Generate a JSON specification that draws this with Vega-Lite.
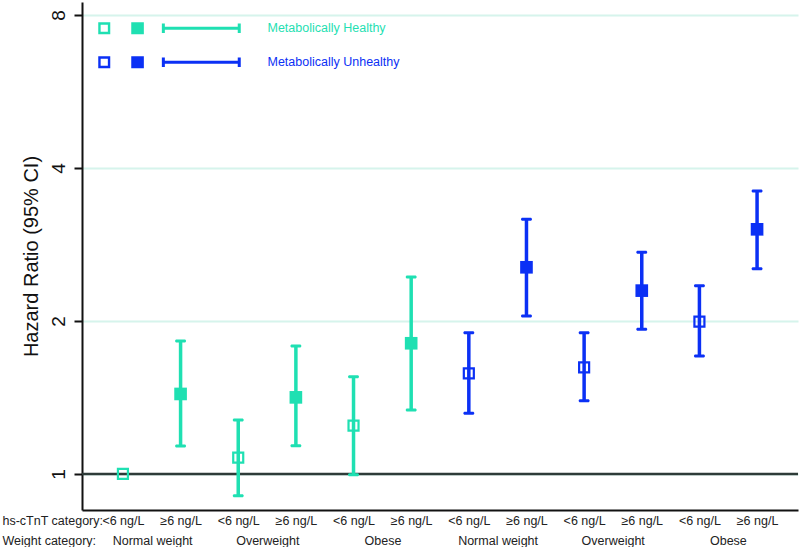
{
  "$schema": "https://vega.github.io/schema/vega-lite/v6.json",
  "width": 716,
  "height": 508,
  "autosize": {"type": "none"},
  "padding": {"left": 82, "top": 2, "right": 2, "bottom": 37},
  "background": "white",
  "config": {
    "view": {"stroke": null},
    "font": "Liberation Sans",
    "axisY": {"labelAngle": -90, "labelFontSize": 19, "labelAlign": "center", "labelBaseline": "bottom"},
    "legend": {
      "orient": "none",
      "legendX": 16,
      "legendY": 20,
      "title": null,
      "symbolType": "M-1,-1 L1,-1 L1,1 L-1,1 Z M-0.6,-0.6 L-0.6,0.6 L0.6,0.6 L0.6,-0.6 Z M4.5,-1 L6.6,-1 L6.6,1 L4.5,1 Z M9.6,-0.27 L22.75,-0.27 L22.75,0.27 L9.6,0.27 Z M9.6,-0.78 L10.1,-0.78 L10.1,0.78 L9.6,0.78 Z M22.25,-0.78 L22.75,-0.78 L22.75,0.78 L22.25,0.78 Z",
      "symbolSize": 144,
      "symbolStrokeWidth": 0,
      "labelOffset": 157,
      "labelFont": "Liberation Sans",
      "labelFontSize": 12.5,
      "labelLimit": 300,
      "rowPadding": 21,
      "padding": 0
    }
  },
  "data": {
    "values": [
      {"group": "Metabolically Healthy", "weight": "Normal weight", "tnt": "<6 ng/L", "hr": 1.0, "lo": null, "hi": null},
      {"group": "Metabolically Healthy", "weight": "Normal weight", "tnt": "≥6 ng/L", "hr": 1.437, "lo": 1.135, "hi": 1.826},
      {"group": "Metabolically Healthy", "weight": "Overweight", "tnt": "<6 ng/L", "hr": 1.077, "lo": 0.906, "hi": 1.277},
      {"group": "Metabolically Healthy", "weight": "Overweight", "tnt": "≥6 ng/L", "hr": 1.415, "lo": 1.136, "hi": 1.786},
      {"group": "Metabolically Healthy", "weight": "Obese", "tnt": "<6 ng/L", "hr": 1.245, "lo": 0.997, "hi": 1.554},
      {"group": "Metabolically Healthy", "weight": "Obese", "tnt": "≥6 ng/L", "hr": 1.808, "lo": 1.336, "hi": 2.44},
      {"group": "Metabolically Unhealthy", "weight": "Normal weight", "tnt": "<6 ng/L", "hr": 1.578, "lo": 1.317, "hi": 1.897},
      {"group": "Metabolically Unhealthy", "weight": "Normal weight", "tnt": "≥6 ng/L", "hr": 2.551, "lo": 2.046, "hi": 3.171},
      {"group": "Metabolically Unhealthy", "weight": "Overweight", "tnt": "<6 ng/L", "hr": 1.621, "lo": 1.394, "hi": 1.897},
      {"group": "Metabolically Unhealthy", "weight": "Overweight", "tnt": "≥6 ng/L", "hr": 2.295, "lo": 1.926, "hi": 2.73},
      {"group": "Metabolically Unhealthy", "weight": "Obese", "tnt": "<6 ng/L", "hr": 1.994, "lo": 1.707, "hi": 2.347},
      {"group": "Metabolically Unhealthy", "weight": "Obese", "tnt": "≥6 ng/L", "hr": 3.03, "lo": 2.534, "hi": 3.604}
    ]
  },
  "transform": [
    {"calculate": "datum.group + '|' + datum.weight + '|' + datum.tnt", "as": "cat"},
    {"calculate": "datum.group + '|' + datum.weight", "as": "wcat"}
  ],
  "layer": [
    {
      "data": {"values": [{"ref": 1}]},
      "mark": {"type": "rule", "color": "#2e3b38", "strokeWidth": 2.5},
      "encoding": {
        "y": {
          "field": "ref", "type": "quantitative",
          "scale": {"type": "log", "base": 2, "domain": [0.8494, 8.486], "nice": false},
          "axis": {
            "values": [1, 2, 4, 8], "format": "d",
            "labelAngle": -90,
            "labelFontSize": 19, "labelColor": "#111", "labelPadding": 6,
            "tickSize": 8, "tickWidth": 2, "tickColor": "#111",
            "domainColor": "#111", "domainWidth": 2,
            "grid": true, "gridColor": "#d6f4ec", "gridWidth": 2,
            "title": "Hazard Ratio (95% CI)", "titleFontSize": 20, "titleFontWeight": "normal",
            "titleColor": "#111", "titlePadding": 8
          }
        }
      }
    },
    {
      "encoding": {
        "x": {
          "field": "cat", "type": "ordinal",
          "scale": {
            "type": "point", "padding": 0.71,
            "domain": [
              "Metabolically Healthy|Normal weight|<6 ng/L", "Metabolically Healthy|Normal weight|≥6 ng/L",
              "Metabolically Healthy|Overweight|<6 ng/L", "Metabolically Healthy|Overweight|≥6 ng/L",
              "Metabolically Healthy|Obese|<6 ng/L", "Metabolically Healthy|Obese|≥6 ng/L",
              "Metabolically Unhealthy|Normal weight|<6 ng/L", "Metabolically Unhealthy|Normal weight|≥6 ng/L",
              "Metabolically Unhealthy|Overweight|<6 ng/L", "Metabolically Unhealthy|Overweight|≥6 ng/L",
              "Metabolically Unhealthy|Obese|<6 ng/L", "Metabolically Unhealthy|Obese|≥6 ng/L"
            ]
          },
          "axis": {
            "labelExpr": "split(datum.label, '|')[2]",
            "labelAngle": 0, "ticks": false,
            "domainColor": "#111", "domainWidth": 2,
            "labelFontSize": 12.5, "labelColor": "#222", "labelPadding": 4,
            "title": "hs-cTnT category:", "titleFontSize": 12.5, "titleFontWeight": "normal",
            "titleColor": "#222", "titleAlign": "left", "titleAnchor": "start",
            "titleX": -80, "titleY": 10, "titleBaseline": "middle"
          }
        },
        "color": {
          "field": "group", "type": "nominal",
          "scale": {"domain": ["Metabolically Healthy", "Metabolically Unhealthy"], "range": ["#1fe0b2", "#0b30f5"]},
          "legend": {
            "encode": {
              "labels": {"update": {"fill": {"scale": "color", "field": "value"}}},
              "symbols": {"update": {"fill": {"scale": "color", "field": "value"}, "stroke": {"value": "transparent"}, "strokeWidth": {"value": 0}, "opacity": {"value": 1}}}
            }
          }
        }
      },
      "layer": [
        {
          "transform": [{"filter": "datum.lo != null"}],
          "mark": {"type": "rule", "strokeWidth": 3.5},
          "encoding": {"y": {"field": "lo", "type": "quantitative"}, "y2": {"field": "hi"}}
        },
        {
          "transform": [{"filter": "datum.lo != null"}],
          "mark": {"type": "tick", "orient": "horizontal", "thickness": 3, "size": 11, "cornerRadius": 1.5, "opacity": 1},
          "encoding": {"y": {"field": "lo", "type": "quantitative"}}
        },
        {
          "transform": [{"filter": "datum.lo != null"}],
          "mark": {"type": "tick", "orient": "horizontal", "thickness": 3, "size": 11, "cornerRadius": 1.5, "opacity": 1},
          "encoding": {"y": {"field": "hi", "type": "quantitative"}}
        },
        {
          "transform": [{"filter": "datum.tnt == '<6 ng/L'"}],
          "mark": {"type": "point", "shape": "square", "filled": false, "size": 100, "strokeWidth": 2.2, "opacity": 1},
          "encoding": {"y": {"field": "hr", "type": "quantitative"}}
        },
        {
          "transform": [{"filter": "datum.tnt != '<6 ng/L'"}],
          "mark": {"type": "square", "size": 160, "opacity": 1},
          "encoding": {"y": {"field": "hr", "type": "quantitative"}}
        }
      ]
    },
    {
      "mark": {"type": "point", "opacity": 0},
      "encoding": {
        "x": {
          "field": "wcat", "type": "ordinal", "sort": null,
          "scale": {"type": "point", "padding": 0.609},
          "axis": {
            "orient": "bottom", "offset": 20,
            "labelExpr": "split(datum.label, '|')[1]",
            "labelAngle": 0, "ticks": false, "domain": false,
            "labelFontSize": 12.5, "labelColor": "#222", "labelPadding": 4,
            "title": "Weight category:", "titleFontSize": 12.5, "titleFontWeight": "normal",
            "titleColor": "#222", "titleAlign": "left", "titleAnchor": "start",
            "titleX": -80, "titleY": 10, "titleBaseline": "middle"
          }
        }
      }
    }
  ],
  "resolve": {"scale": {"x": "independent"}}
}
